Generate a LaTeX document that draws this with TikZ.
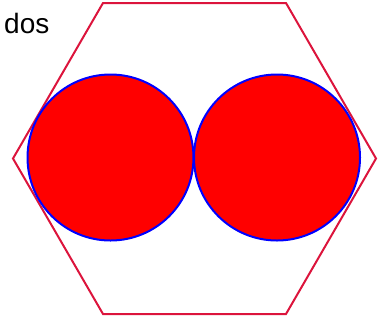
\documentclass[tikz,border=0pt]{standalone}
\usepackage{fontspec}
\setmainfont{Liberation Sans}
\definecolor{hexred}{HTML}{DC143C}
\begin{document}
\begin{tikzpicture}[x=1pt,y=-1pt,
  hexstyle/.style={draw=hexred,line width=2pt,line join=miter},
  ballstyle/.style={draw=blue,fill=red,line width=2pt}]
\useasboundingbox (0,0) rectangle (379,322);
\draw[hexstyle] (103,3) -- (286,3) -- (376,158.5) -- (286,314) -- (103,314) -- (13,158.5) -- cycle;
\path[ballstyle] (110.5,157.5) circle (83);
\path[ballstyle] (277,157.5) circle (83);
\node[anchor=base west,inner sep=0pt,font=\fontsize{28}{32}\selectfont] (lbl) at (4,33) {dos};
\end{tikzpicture}
\end{document}
